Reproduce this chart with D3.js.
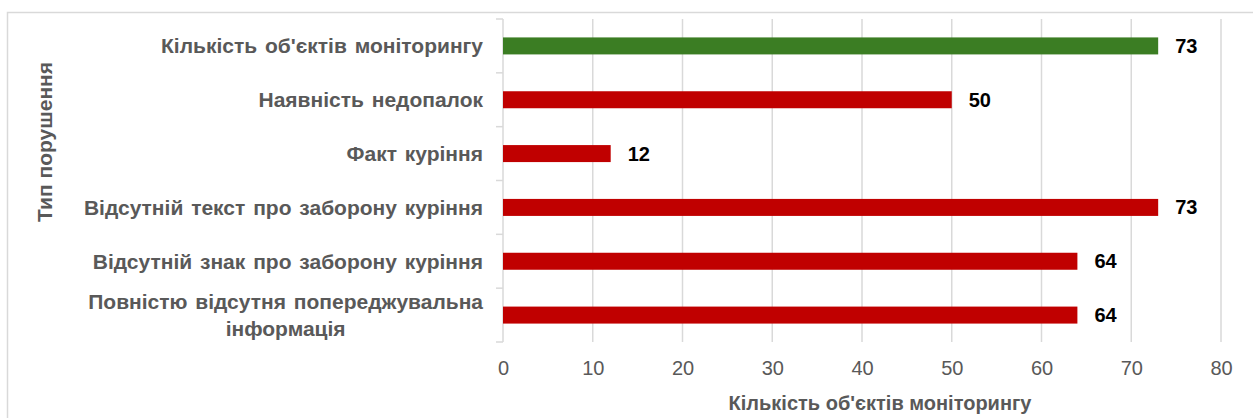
<!DOCTYPE html>
<html><head><meta charset="utf-8">
<script src="https://cdn.jsdelivr.net/npm/d3@7"></script>
<style>body{margin:0;background:#fff}svg{display:block;font-family:"Liberation Sans",Arial,sans-serif}</style>
</head><body>
<svg id="c" width="1253" height="418"></svg>
<script>
const categories = [
  ["Кількість об'єктів моніторингу"],
  ["Наявність недопалок"],
  ["Факт куріння"],
  ["Відсутній текст про заборону куріння"],
  ["Відсутній знак про заборону куріння"],
  ["Повністю відсутня попереджувальна", "інформація"]
];
const values = [73, 50, 12, 73, 64, 64];
const barColors = ["#3b7d23", "#c00000", "#c00000", "#c00000", "#c00000", "#c00000"];
const xTicks = [0, 10, 20, 30, 40, 50, 60, 70, 80];
const xTitle = "Кількість об'єктів моніторингу";
const yTitle = "Тип порушення";

const svg = d3.select("#c");
const L = 503, R = 1221, T = 19, B = 342;
const x = d3.scaleLinear().domain([0, 80]).range([L, R]);
const idx = d3.range(categories.length);
const pi = 1 - 17 / ((B - T) / categories.length);
const y = d3.scaleBand().domain(idx).range([T, B]).paddingInner(pi).paddingOuter(pi / 2);
const gray = "#595959", grid = "#d9d9d9";

// outer border
svg.append("rect").attr("x", 7.5).attr("y", 12.5).attr("width", 1300).attr("height", 500)
  .attr("fill", "none").attr("stroke", grid).attr("stroke-width", 1.5);

// gridlines
svg.append("g").selectAll("line").data(xTicks.filter(d => d > 0)).join("line")
  .attr("x1", d => x(d)).attr("x2", d => x(d)).attr("y1", T).attr("y2", B)
  .attr("stroke", grid).attr("stroke-width", 1.5);

// x axis tick labels
const xAxis = d3.axisBottom(x).tickValues(xTicks).tickSize(0).tickPadding(0).tickFormat(d3.format("d"));
const gx = svg.append("g").attr("transform", `translate(0,${B})`).call(xAxis);
gx.select(".domain").remove();
gx.selectAll("text").attr("dy", null).attr("y", 33).attr("fill", gray)
  .style("font-size", "20px").style("font-family", '"Liberation Sans",Arial,sans-serif');

// y axis line + boundary ticks
const step = y.step();
svg.append("line").attr("x1", L).attr("x2", L).attr("y1", T).attr("y2", B)
  .attr("stroke", grid).attr("stroke-width", 1.5);
svg.append("g").selectAll("line").data(d3.range(categories.length + 1)).join("line")
  .attr("x1", L - 7).attr("x2", L).attr("y1", d => T + d * step).attr("y2", d => T + d * step)
  .attr("stroke", grid).attr("stroke-width", 1.5);

// bars
svg.append("g").selectAll("rect").data(idx).join("rect")
  .attr("x", x(0)).attr("y", i => y(i)).attr("width", i => x(values[i]) - x(0))
  .attr("height", y.bandwidth()).attr("fill", i => barColors[i]);

// value labels
svg.append("g").selectAll("text").data(idx).join("text")
  .attr("x", i => x(values[i]) + 17).attr("y", i => y(i) + y.bandwidth() / 2)
  .attr("dy", "0.35em").attr("fill", "#000").style("font-size", "20px").style("font-weight", "bold")
  .text(i => values[i]);

// category labels
const labelRight = 483, lineH = 27;
idx.forEach(i => {
  const lines = categories[i];
  const cy = y(i) + y.bandwidth() / 2;
  const g = svg.append("g");
  const texts = lines.map((t, k) => g.append("text")
    .attr("y", cy + (k - (lines.length - 1) / 2) * lineH).attr("dy", "0.35em")
    .attr("fill", gray).style("font-size", "21px").style("font-weight", "bold")
    .style("word-spacing", "2px").attr("text-anchor", "middle").text(t));
  const w = d3.max(texts, t => t.node().getComputedTextLength());
  texts.forEach(t => t.attr("x", labelRight - w / 2));
});

// axis titles
svg.append("text").attr("x", 880).attr("y", 403).attr("dy", "0.35em").attr("text-anchor", "middle")
  .attr("fill", gray).style("font-size", "20px").style("font-weight", "bold").text(xTitle);
svg.append("text").attr("transform", "translate(45,142) rotate(-90)").attr("dy", "0.35em")
  .attr("text-anchor", "middle").attr("fill", gray).style("font-size", "21px").style("font-weight", "bold")
  .text(yTitle);
</script>
</body></html>
